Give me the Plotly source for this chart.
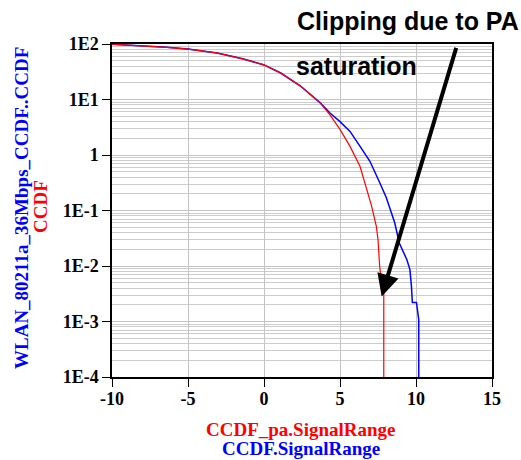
import plotly.graph_objects as go

# Signal level relative to average power (dB) and CCDF (%) for the ideal source
ccdf_x = [-10.0, -8.6, -6.4, -5.0, -3.1, -1.4, 0.0, 1.1, 2.4, 3.7, 4.34, 5.0, 5.66,
          6.32, 6.97, 7.63, 8.05, 8.6, 8.9, 9.4, 9.6, 9.7, 9.76, 10.03, 10.14, 10.18, 10.18]
ccdf_y = [99, 94.5, 87, 81, 69, 54, 42, 30, 17.5, 8.7, 5.7, 4.0, 2.66,
          1.43, 0.77, 0.31, 0.17, 0.06, 0.026, 0.013, 0.0086, 0.0043, 0.0022, 0.0022,
          0.00108, 0.00108, 0.0001]

# CCDF (%) after the power amplifier
ccdf_pa_x = [-10.0, -8.6, -6.4, -5.0, -3.1, -1.4, 0.0, 1.1, 2.4, 3.7, 4.34, 5.0,
             5.66, 6.32, 6.75, 7.08, 7.39, 7.5, 7.61, 7.72, 7.83, 7.88, 7.88]
ccdf_pa_y = [99, 94.5, 87, 81, 69, 54, 42, 30, 17.5, 8.7, 5.3, 2.9,
             1.43, 0.62, 0.24, 0.12, 0.052, 0.03, 0.0098, 0.0057, 0.0033, 0.0033, 0.0001]

x_ticks = [-10, -5, 0, 5, 10, 15]
x_tick_labels = ["-10", "-5", "0", "5", "10", "15"]
y_ticks = [1e2, 1e1, 1, 1e-1, 1e-2, 1e-3, 1e-4]
y_tick_labels = ["1E2", "1E1", "1", "1E-1", "1E-2", "1E-3", "1E-4"]
y_minor = [m * 10 ** k for k in range(-4, 2) for m in range(2, 10)]

W, H = 521, 460
L, R, T, B = 112, 29, 44, 83
pw, ph = W - L - R, H - T - B


def px(x):
    return (x - L) / pw


def py(y):
    return (H - B - y) / ph


serif = "Liberation Serif"
sans = "Liberation Sans"

fig = go.Figure()
fig.add_trace(go.Scatter(x=ccdf_x, y=ccdf_y, mode="lines",
                         line=dict(color="#0000ff", width=1.5), showlegend=False))
fig.add_trace(go.Scatter(x=ccdf_pa_x, y=ccdf_pa_y, mode="lines",
                         line=dict(color="#ff0000", width=1.2), showlegend=False))

tick_font = dict(family=serif, size=18, color="black", weight="bold")
fig.update_layout(
    width=W, height=H,
    margin=dict(l=L, r=R, t=T, b=B),
    paper_bgcolor="white", plot_bgcolor="white",
    xaxis=dict(range=[-10, 15], tickvals=x_ticks, ticktext=x_tick_labels,
               ticks="outside", ticklen=8, ticklabelstandoff=-3,
               tickcolor="black", showline=True, linecolor="black", linewidth=1.5,
               mirror=True, showgrid=True, gridcolor="#c4c4c4", gridwidth=1,
               zeroline=False, tickfont=tick_font),
    yaxis=dict(type="log", range=[-4, 2], tickvals=y_ticks, ticktext=y_tick_labels,
               ticks="outside", ticklen=8, tickcolor="black",
               showline=True, linecolor="black", linewidth=1.5, mirror=True,
               showgrid=True, gridcolor="#c4c4c4", gridwidth=1,
               minor=dict(tickvals=y_minor, showgrid=True, gridcolor="#cccccc",
                          gridwidth=1, ticks=""),
               tickfont=tick_font),
)


def label(text, x, y, size, color, family, angle=0):
    fig.add_annotation(text=text, xref="paper", yref="paper", x=px(x), y=py(y),
                       xanchor="center", yanchor="middle", textangle=angle,
                       showarrow=False,
                       font=dict(family=family, size=size, color=color, weight="bold"))


# Axis titles
label("CCDF_pa.SignalRange", 301, 429, 19, "#ff0000", serif)
label("CCDF.SignalRange", 301, 448, 19, "#0000ff", serif)
label("WLAN_80211a_36Mbps_CCDF..CCDF", 21, 208, 19, "#0000ff", serif, -90)
label("CCDF", 40, 207, 19, "#ff0000", serif, -90)

# Callout for amplifier clipping
label("Clipping due to PA", 408, 21, 25, "black", sans)
label("saturation", 356, 66, 25, "black", sans)
fig.add_annotation(text="", x=7.74, y=-2.548, xref="x", yref="y",
                   ax=75, ay=-250, axref="pixel", ayref="pixel",
                   showarrow=True, arrowhead=2, arrowsize=1.1, arrowwidth=4,
                   arrowcolor="black")

fig.write_html("out.html")
